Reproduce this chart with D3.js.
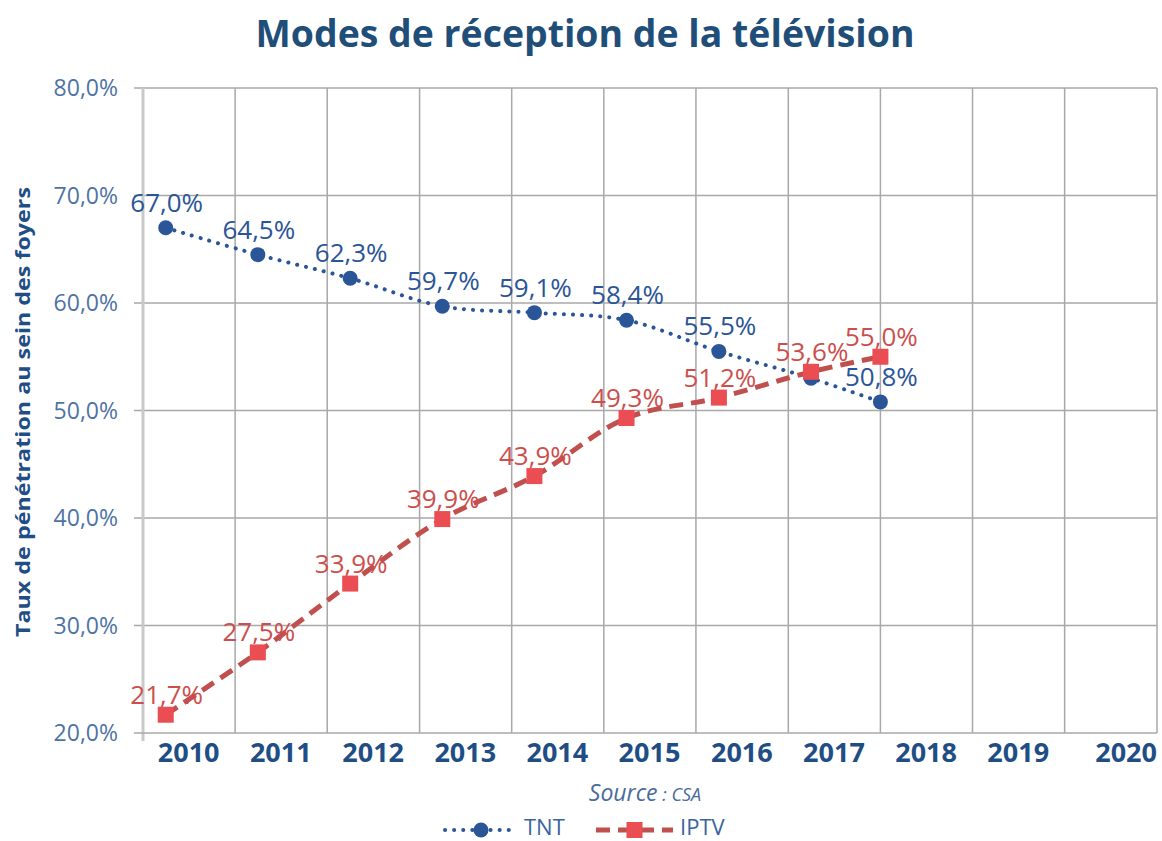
<!DOCTYPE html>
<html>
<head>
<meta charset="utf-8">
<script src="https://cdn.jsdelivr.net/npm/d3@7"></script>
<style>
  body { margin: 0; background: #fff; }
  text { font-family: "Open Sans", sans-serif; }
</style>
</head>
<body>
<div id="chart-container"></div>
<script>
// Years shown on the axis
const years = [2010, 2011, 2012, 2013, 2014, 2015, 2016, 2017, 2018, 2019, 2020];

// Survey dates of each measurement (as read from the point positions)
const surveyDates = ["2010-04-01", "2011-04-01", "2012-04-01", "2013-04-01", "2014-04-01",
                     "2015-04-01", "2016-04-01", "2017-04-01", "2018-01-01"];

// Penetration rates, %
const tntValues  = [67.0, 64.5, 62.3, 59.7, 59.1, 58.4, 55.5, 53.0, 50.8];
const iptvValues = [21.7, 27.5, 33.9, 39.9, 43.9, 49.3, 51.2, 53.6, 55.0];
// TNT 2017 label is hidden behind the IPTV marker in the original
const tntShowLabel = [true, true, true, true, true, true, true, false, true];

const yTicks = [20, 30, 40, 50, 60, 70, 80];

const svgWidth = 1162;
const svgHeight = 841;
const margin = { top: 88, right: 5, bottom: 108, left: 143 };

const parse = d3.timeParse("%Y-%m-%d");
const fmt = v => v.toFixed(1).replace(".", ",") + "%";

const svg = d3.select("#chart-container")
    .append("svg")
    .attr("width", svgWidth)
    .attr("height", svgHeight);

// Scales
const xScale = d3.scaleTime()
    .domain([new Date(years[0], 0, 1), new Date(years[years.length - 1] + 1, 0, 1)])
    .range([margin.left, svgWidth - margin.right]);

const yScale = d3.scaleLinear()
    .domain([20, 80])
    .range([svgHeight - margin.bottom, margin.top]);

const x0 = margin.left, x1 = svgWidth - margin.right;
const yBottom = svgHeight - margin.bottom;

// Horizontal gridlines (with small outer ticks)
svg.append("g")
    .selectAll("line")
    .data(yTicks.slice(1))
    .join("line")
    .attr("x1", x0 - 9)
    .attr("x2", x1)
    .attr("y1", d => yScale(d))
    .attr("y2", d => yScale(d))
    .attr("stroke", "#a8a8a8")
    .attr("stroke-width", 1.5);

// Vertical gridlines at year boundaries
const yearBounds = years.slice(1).map(y => new Date(y, 0, 1))
    .concat([new Date(years[years.length - 1] + 1, 0, 1)]);
svg.append("g")
    .selectAll("line")
    .data(yearBounds)
    .join("line")
    .attr("x1", d => xScale(d))
    .attr("x2", d => xScale(d))
    .attr("y1", yScale(80))
    .attr("y2", yBottom)
    .attr("stroke", "#a8a8a8")
    .attr("stroke-width", 1.5);

// Left axis line
svg.append("line")
    .attr("x1", x0).attr("x2", x0)
    .attr("y1", yScale(80)).attr("y2", yBottom + 8)
    .attr("stroke", "#c9c9c9")
    .attr("stroke-width", 3);

// Bottom axis line
svg.append("line")
    .attr("x1", x0 - 9).attr("x2", x1)
    .attr("y1", yBottom).attr("y2", yBottom)
    .attr("stroke", "#a8a8a8")
    .attr("stroke-width", 1.5);

// Y tick labels
svg.append("g")
    .selectAll("text")
    .data(yTicks)
    .join("text")
    .attr("x", 118)
    .attr("y", d => yScale(d) + 8)
    .attr("text-anchor", "end")
    .attr("font-size", 23)
    .attr("fill", "#4e73a5")
    .text(d => d.toFixed(1).replace(".", ",") + "%");

// Year labels, centered in each year
svg.append("g")
    .selectAll("text")
    .data(years)
    .join("text")
    .attr("x", (d, i) => i === years.length - 1 ? x1 : xScale(new Date(d, 6, 1)))
    .attr("y", 762)
    .attr("text-anchor", (d, i) => i === years.length - 1 ? "end" : "middle")
    .attr("font-size", 27)
    .attr("font-weight", "bold")
    .attr("fill", "#1f4e85")
    .text(d => d);

// Title
svg.append("text")
    .attr("x", 585)
    .attr("y", 47)
    .attr("text-anchor", "middle")
    .attr("font-size", 38)
    .attr("font-weight", "bold")
    .attr("fill", "#1f4e79")
    .attr("textLength", 659)
    .attr("lengthAdjust", "spacingAndGlyphs")
    .text("Modes de réception de la télévision");

// Y axis title
svg.append("text")
    .attr("transform", "translate(30, 412) rotate(-90)")
    .attr("text-anchor", "middle")
    .attr("font-size", 20)
    .attr("font-weight", "bold")
    .attr("fill", "#1f4e85")
    .attr("textLength", 450)
    .attr("lengthAdjust", "spacingAndGlyphs")
    .text("Taux de pénétration au sein des foyers");

// Series
const dates = surveyDates.map(parse);
const tnt = dates.map((d, i) => ({ date: d, value: tntValues[i], show: tntShowLabel[i] }));
const iptv = dates.map((d, i) => ({ date: d, value: iptvValues[i], show: true }));

const line = d3.line()
    .x(d => xScale(d.date))
    .y(d => yScale(d.value))
    .curve(d3.curveCatmullRom.alpha(0.5));

const tntColor = "#2a5597";
const iptvLine = "#c0504d";
const iptvMarker = "#ea4d52";
const iptvText = "#cc4f4d";

svg.append("path")
    .datum(tnt)
    .attr("fill", "none")
    .attr("stroke", tntColor)
    .attr("stroke-width", 4)
    .attr("stroke-linecap", "round")
    .attr("stroke-dasharray", "0.1 9")
    .attr("d", line);

svg.append("g")
    .selectAll("circle")
    .data(tnt)
    .join("circle")
    .attr("cx", d => xScale(d.date))
    .attr("cy", d => yScale(d.value))
    .attr("r", 7.5)
    .attr("fill", tntColor);

svg.append("path")
    .datum(iptv)
    .attr("fill", "none")
    .attr("stroke", iptvLine)
    .attr("stroke-width", 5)
    .attr("stroke-dasharray", "14 8")
    .attr("d", line);

svg.append("g")
    .selectAll("rect")
    .data(iptv)
    .join("rect")
    .attr("x", d => xScale(d.date) - 8)
    .attr("y", d => yScale(d.value) - 8)
    .attr("width", 16)
    .attr("height", 16)
    .attr("fill", iptvMarker);

// Data labels
svg.append("g")
    .selectAll("text")
    .data(tnt.filter(d => d.show))
    .join("text")
    .attr("x", d => xScale(d.date) + 1)
    .attr("y", d => yScale(d.value) - 16)
    .attr("text-anchor", "middle")
    .attr("font-size", 26)
    .attr("fill", tntColor)
    .text(d => fmt(d.value));

svg.append("g")
    .selectAll("text")
    .data(iptv)
    .join("text")
    .attr("x", d => xScale(d.date) + 1)
    .attr("y", d => yScale(d.value) - 11)
    .attr("text-anchor", "middle")
    .attr("font-size", 26)
    .attr("fill", iptvText)
    .text(d => fmt(d.value));

// Source
const src = svg.append("text")
    .attr("x", 645)
    .attr("y", 801)
    .attr("text-anchor", "middle")
    .attr("font-style", "italic")
    .attr("fill", "#4a6c9b");
src.append("tspan").attr("font-size", 23).text("Source");
src.append("tspan").attr("font-size", 18).text(" : CSA");

// Legend
function drawLegend(svg) {
    const legendY = 830;
    const items = [
        { x: 445, w: 72, text: "TNT", shape: "circle" },
        { x: 596, w: 77, text: "IPTV", shape: "square" }
    ];
    items.forEach(item => {
        const cx = item.x + item.w / 2;
        if (item.shape === "circle") {
            svg.append("line")
                .attr("x1", item.x).attr("x2", item.x + item.w)
                .attr("y1", legendY).attr("y2", legendY)
                .attr("stroke", tntColor)
                .attr("stroke-width", 4)
                .attr("stroke-linecap", "round")
                .attr("stroke-dasharray", "0.1 9");
            svg.append("circle")
                .attr("cx", cx).attr("cy", legendY)
                .attr("r", 7.5)
                .attr("fill", tntColor);
        } else {
            svg.append("line")
                .attr("x1", item.x).attr("x2", item.x + item.w)
                .attr("y1", legendY).attr("y2", legendY)
                .attr("stroke", iptvLine)
                .attr("stroke-width", 5)
                .attr("stroke-dasharray", "14 8");
            svg.append("rect")
                .attr("x", cx - 8).attr("y", legendY - 8)
                .attr("width", 16).attr("height", 16)
                .attr("fill", iptvMarker);
        }
        svg.append("text")
            .attr("x", item.x + item.w + 7)
            .attr("y", legendY + 5)
            .attr("font-size", 22)
            .attr("fill", "#3a64a0")
            .text(item.text);
    });
}

drawLegend(svg);
</script>
</body>
</html>
